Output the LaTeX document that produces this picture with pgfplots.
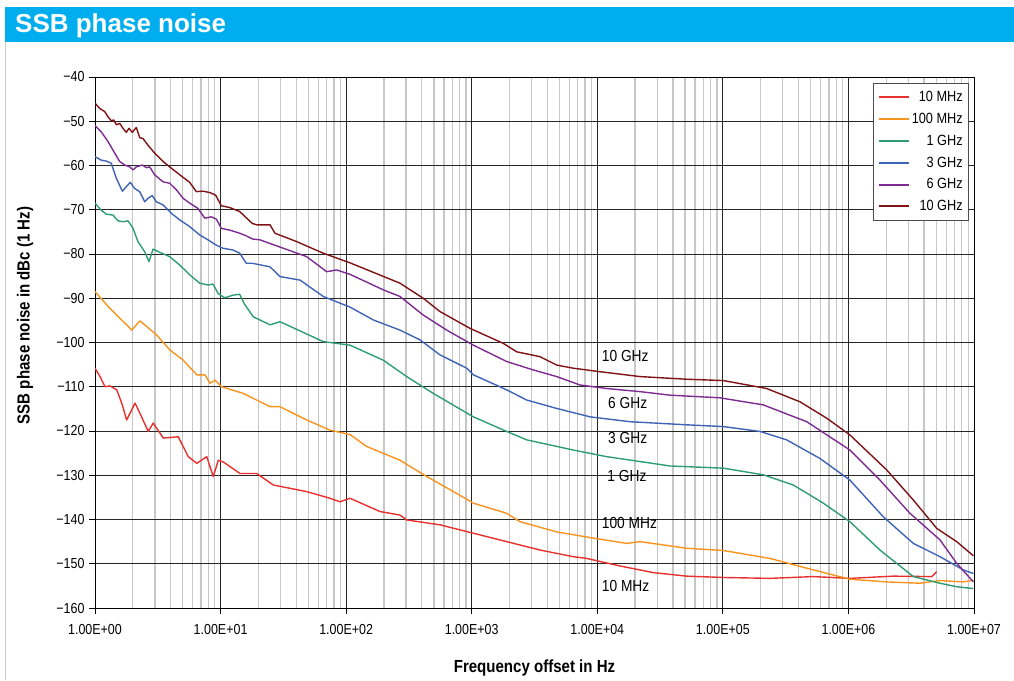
\documentclass[border=0pt]{standalone}
\usepackage{fontspec}
\setmainfont{Liberation Sans}[FakeStretch=0.86]
\newfontfamily\titlefont{Liberation Sans}[FakeStretch=1.0]
\usepackage{pgfplots}
\usepackage{pgfplotstable}
\pgfplotsset{compat=1.18}

\definecolor{titleblue}{HTML}{00AEEF}
\definecolor{cTenM}{HTML}{E8302E}
\definecolor{cHundM}{HTML}{F7941D}
\definecolor{cOneG}{HTML}{2E9E72}
\definecolor{cThreeG}{HTML}{3F63B6}
\definecolor{cSixG}{HTML}{7D2B91}
\definecolor{cTenG}{HTML}{7E1215}

\pgfplotstableread{
L y
0 -105.8
0.040 -107.7
0.080 -110.0
0.119 -109.8
0.173 -110.7
0.213 -113.7
0.252 -117.5
0.319 -113.7
0.358 -116.0
0.424 -120.1
0.464 -118.2
0.544 -121.6
0.663 -121.3
0.743 -125.8
0.810 -127.3
0.890 -125.8
0.942 -130.3
0.982 -126.6
1.022 -127.0
1.155 -129.6
1.288 -129.6
1.420 -132.2
1.686 -133.7
1.871 -135.2
1.951 -136.0
2.031 -135.2
2.270 -138.2
2.429 -139.0
2.482 -140.1
2.747 -141.2
3.013 -143.1
3.279 -145.0
3.544 -146.9
3.809 -148.4
3.916 -148.8
4.181 -150.5
4.446 -152.0
4.712 -152.8
5.004 -153.1
5.376 -153.3
5.720 -152.9
6.012 -153.3
6.357 -152.8
6.663 -152.9
6.703 -151.8
}\tenM

\pgfplotstableread{
L y
0 -88.5
0.119 -92.3
0.252 -96.0
0.292 -97.2
0.358 -95.1
0.491 -98.3
0.597 -101.7
0.703 -104.0
0.810 -107.3
0.876 -107.3
0.916 -109.2
0.956 -108.5
1.009 -110.0
1.181 -111.5
1.394 -114.5
1.473 -114.5
1.686 -117.5
1.871 -119.8
2.031 -120.8
2.164 -123.5
2.429 -126.6
2.642 -130.3
2.880 -134.1
3.013 -136.3
3.279 -138.6
3.385 -140.5
3.677 -142.8
3.968 -144.2
4.234 -145.4
4.340 -145.0
4.712 -146.5
5.004 -147.0
5.376 -148.8
5.668 -151.0
6.012 -153.5
6.305 -154.1
6.570 -154.4
6.729 -153.8
6.915 -154.1
6.995 -153.7
}\hundM

\pgfplotstableread{
L y
0.000 -68.5
0.050 -70.1
0.090 -71.0
0.143 -71.2
0.183 -72.5
0.223 -72.7
0.263 -72.5
0.303 -74.2
0.342 -77.2
0.396 -79.5
0.430 -81.7
0.462 -78.9
0.515 -79.6
0.595 -80.6
0.675 -82.5
0.754 -84.7
0.834 -86.6
0.900 -87.0
0.940 -86.8
0.980 -88.9
1.033 -89.9
1.099 -89.3
1.152 -89.1
1.192 -91.4
1.261 -94.2
1.394 -96.0
1.473 -95.3
1.818 -99.8
2.031 -100.6
2.296 -104.0
2.482 -107.7
2.694 -111.5
3.013 -116.8
3.279 -120.1
3.438 -122.0
3.809 -124.3
4.075 -125.8
4.340 -126.9
4.579 -127.9
5.004 -128.4
5.322 -129.9
5.561 -132.2
5.800 -136.3
6.012 -140.5
6.251 -146.9
6.517 -152.9
6.729 -154.4
6.862 -155.2
6.995 -155.6
}\oneG

\pgfplotstableread{
L y
0.000 -58.0
0.050 -58.8
0.090 -59.0
0.130 -59.5
0.170 -62.9
0.218 -65.8
0.249 -64.8
0.281 -63.8
0.316 -65.2
0.356 -65.9
0.396 -68.2
0.422 -67.4
0.456 -66.8
0.488 -68.2
0.542 -68.9
0.608 -70.8
0.675 -72.3
0.754 -73.8
0.834 -75.7
0.900 -76.8
0.966 -78.0
1.019 -78.7
1.099 -79.1
1.152 -79.8
1.205 -82.1
1.253 -82.1
1.394 -82.9
1.473 -85.1
1.633 -85.9
1.818 -89.6
2.031 -92.0
2.216 -94.9
2.429 -97.2
2.588 -99.4
2.747 -102.8
2.960 -105.8
3.013 -107.3
3.279 -110.7
3.438 -113.0
3.677 -114.9
3.942 -116.8
4.260 -117.9
4.712 -118.6
5.004 -119.0
5.296 -120.1
5.508 -122.0
5.773 -126.2
6.012 -131.1
6.278 -139.4
6.517 -145.4
6.729 -148.4
6.915 -151.4
6.995 -152.2
}\threeG

\pgfplotstableread{
L y
0.000 -51.0
0.050 -52.4
0.104 -54.6
0.157 -57.2
0.197 -59.1
0.237 -59.9
0.276 -60.3
0.303 -61.0
0.329 -60.3
0.377 -59.9
0.409 -60.5
0.435 -60.3
0.475 -62.1
0.542 -63.7
0.595 -64.0
0.648 -65.5
0.701 -67.4
0.754 -68.5
0.820 -69.7
0.874 -71.9
0.926 -71.6
0.966 -72.1
1.006 -74.2
1.073 -74.6
1.152 -75.3
1.205 -75.9
1.253 -76.6
1.314 -76.8
1.500 -78.7
1.686 -80.6
1.845 -84.0
1.925 -83.6
2.031 -84.6
2.296 -88.1
2.429 -89.6
2.614 -93.8
2.801 -97.2
3.013 -100.6
3.279 -104.3
3.490 -106.2
3.677 -107.7
3.862 -109.6
4.075 -110.4
4.340 -111.1
4.579 -111.9
4.977 -112.5
5.322 -114.1
5.668 -117.9
6.012 -124.3
6.251 -131.1
6.490 -138.6
6.729 -144.6
6.862 -149.9
6.995 -154.1
}\sixG

\pgfplotstableread{
L y
0.000 -45.9
0.037 -47.1
0.077 -47.8
0.104 -49.0
0.130 -49.9
0.149 -49.7
0.170 -50.8
0.197 -50.5
0.223 -51.6
0.249 -52.5
0.271 -51.6
0.297 -52.5
0.329 -51.4
0.356 -53.7
0.382 -53.9
0.422 -55.4
0.475 -57.2
0.542 -59.1
0.608 -60.6
0.675 -62.1
0.754 -63.8
0.807 -65.9
0.860 -65.8
0.913 -66.1
0.961 -66.7
1.006 -69.1
1.073 -69.5
1.152 -70.4
1.253 -73.1
1.288 -73.4
1.394 -73.4
1.433 -75.3
1.606 -77.2
1.816 -79.8
2.031 -82.0
2.429 -86.6
2.614 -90.0
2.747 -93.0
2.986 -96.8
3.252 -100.2
3.358 -102.1
3.544 -103.2
3.677 -105.1
3.807 -105.8
4.022 -106.6
4.340 -107.7
4.712 -108.3
5.004 -108.6
5.349 -110.4
5.614 -113.4
5.827 -117.1
6.012 -120.9
6.305 -128.8
6.517 -135.6
6.703 -142.0
6.862 -145.0
6.995 -148.2
}\tenG

\begin{document}
\begin{tikzpicture}
\path[use as bounding box] (0pt,0pt) rectangle (1014pt,-680pt);
\fill[titleblue] (5pt,-6.5pt) rectangle (1014pt,-42pt);
\draw[black!20, line width=1pt] (5.5pt,-42pt) -- (5.5pt,-680pt);
\node[anchor=base west, text=white, inner sep=0pt, font=\titlefont\bfseries\fontsize{26}{30}\selectfont] at (15pt,-32pt) {SSB phase noise};
\begin{axis}[
  at={(95pt,-608pt)}, anchor=south west,
  width=879pt, height=531pt, scale only axis,
  xmode=log, xmin=1, xmax=1e7, ymin=-160, ymax=-40,
  xtick={1,10,100,1000,10000,100000,1000000,10000000},
  xticklabels={1.00E+00,1.00E+01,1.00E+02,1.00E+03,1.00E+04,1.00E+05,1.00E+06,1.00E+07},
  minor xtick={2,3,4,5,6,7,8,9,20,30,40,50,60,70,80,90,200,300,400,500,600,700,800,900,2000,3000,4000,5000,6000,7000,8000,9000,20000,30000,40000,50000,60000,70000,80000,90000,200000,300000,400000,500000,600000,700000,800000,900000,2000000,3000000,4000000,5000000,6000000,7000000,8000000,9000000},
  ytick={-160,-150,-140,-130,-120,-110,-100,-90,-80,-70,-60,-50,-40},
  yticklabels={−160,−150,−140,−130,−120,−110,−100,−90,−80,−70,−60,−50,−40},
  /pgf/number format/assume math mode=true,
  grid=both,
  major grid style={black!85, line width=0.9pt},
  minor grid style={black!22, line width=1.3pt},
  axis line style={black, line width=1pt},
  tick align=outside, xtick pos=bottom, ytick pos=left,
  major tick length=6pt, minor tick length=0pt,
  major tick style={black, line width=1pt},
  tick label style={font=\fontsize{14.5}{16}\selectfont},
  xticklabel style={yshift=-7pt},
  yticklabel style={xshift=-1pt},
  xlabel={Frequency offset in Hz},
  ylabel={SSB phase noise in dBc (1 Hz)},
  label style={font=\bfseries\fontsize{17.5}{20}\selectfont},
  xlabel style={at={(axis description cs:0.5,-0.113)}, anchor=center},
  ylabel style={at={(axis description cs:-0.0796,0.551)}, anchor=center},
  legend style={at={(axis description cs:0.9943,0.9887)}, anchor=north east,
    draw=black!70, line width=0.6pt, fill=white, font=\fontsize{14.8}{16}\selectfont,
    row sep=6pt, inner xsep=4pt, inner ysep=6pt},
  legend cell align=right,
  legend image code/.code={\draw[#1, line width=2pt] (0pt,0pt) -- (30pt,0pt);},
  every axis plot/.append style={line width=1.4pt, line join=round},
]
\addplot[cTenM, no markers] table[x expr=10^\thisrow{L}, y=y] {\tenM};
\addlegendentry{10 MHz}
\addplot[cHundM, no markers] table[x expr=10^\thisrow{L}, y=y] {\hundM};
\addlegendentry{100 MHz}
\addplot[cOneG, no markers] table[x expr=10^\thisrow{L}, y=y] {\oneG};
\addlegendentry{1 GHz}
\addplot[cThreeG, no markers] table[x expr=10^\thisrow{L}, y=y] {\threeG};
\addlegendentry{3 GHz}
\addplot[cSixG, no markers] table[x expr=10^\thisrow{L}, y=y] {\sixG};
\addlegendentry{6 GHz}
\addplot[cTenG, no markers] table[x expr=10^\thisrow{L}, y=y] {\tenG};
\addlegendentry{10 GHz}
\node[anchor=west, inner sep=0pt, font=\fontsize{16}{18}\selectfont] at (axis cs:10840,-103.05) {10 GHz};
\node[anchor=west, inner sep=0pt, font=\fontsize{16}{18}\selectfont] at (axis cs:12170,-113.67) {6 GHz};
\node[anchor=west, inner sep=0pt, font=\fontsize{16}{18}\selectfont] at (axis cs:12170,-121.58) {3 GHz};
\node[anchor=west, inner sep=0pt, font=\fontsize{16}{18}\selectfont] at (axis cs:12000,-130.17) {1 GHz};
\node[anchor=west, inner sep=0pt, font=\fontsize{16}{18}\selectfont] at (axis cs:10840,-140.79) {100 MHz};
\node[anchor=west, inner sep=0pt, font=\fontsize{16}{18}\selectfont] at (axis cs:10840,-155.03) {10 MHz};
\end{axis}
\end{tikzpicture}
\end{document}
